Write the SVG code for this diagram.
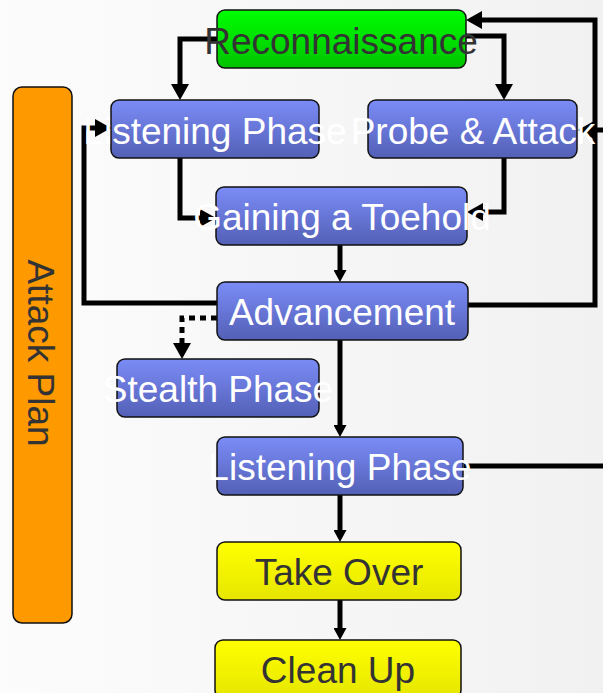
<svg xmlns="http://www.w3.org/2000/svg" width="603" height="693" viewBox="0 0 603 693">
<defs>
<linearGradient id="bg" x1="0" y1="0" x2="1" y2="0"><stop offset="0" stop-color="#fcfcfc"/><stop offset="1" stop-color="#f1f1f1"/></linearGradient>
<linearGradient id="blue" x1="0" y1="0" x2="0" y2="1"><stop offset="0" stop-color="#7b8cf7"/><stop offset="1" stop-color="#5360b6"/></linearGradient>
<linearGradient id="green" x1="0" y1="0" x2="0" y2="1"><stop offset="0" stop-color="#00ff00"/><stop offset="1" stop-color="#00c200"/></linearGradient>
<linearGradient id="yellow" x1="0" y1="0" x2="0" y2="1"><stop offset="0" stop-color="#ffff00"/><stop offset="1" stop-color="#e6e600"/></linearGradient>
<marker id="big" markerUnits="userSpaceOnUse" viewBox="0 0 16 18" refX="10" refY="9" markerWidth="16" markerHeight="18" orient="auto"><path d="M0,0 L16,9 L0,18 z" fill="#000"/></marker>
<marker id="small" markerUnits="userSpaceOnUse" viewBox="0 0 12 13" refX="6" refY="6.5" markerWidth="12" markerHeight="13" orient="auto"><path d="M0,0 L12,6.5 L0,13 z" fill="#000"/></marker>
<style>
.c{fill:none;stroke:#000;stroke-width:5;stroke-linejoin:miter}
.b{stroke:#111;stroke-width:1.5}
.t{font-family:"Liberation Sans",Arial,sans-serif;font-size:37px;text-anchor:middle}
.w{fill:#fff}
.d{fill:#333}
</style>
</defs>
<rect width="603" height="693" fill="url(#bg)"/>
<g id="connectors">
<path class="c" d="M217,39 H180 V94" marker-end="url(#big)"/>
<path class="c" d="M466,36 H504 V94" marker-end="url(#big)"/>
<path class="c" d="M180,158 V218 H210" marker-end="url(#big)"/>
<path class="c" d="M504,158 V212 H473" marker-end="url(#big)"/>
<path class="c" d="M340,245 V276" marker-end="url(#small)"/>
<path class="c" d="M217,303 H84 V128 H105" marker-end="url(#big)"/>
<path class="c" d="M468,305 H595 V20 H472" marker-end="url(#big)"/>
<path class="c" d="M603,130 H584" marker-end="url(#big)"/>
<path class="c" d="M217,318 H182 V353" stroke-dasharray="6 5" marker-end="url(#big)"/>
<path class="c" d="M340,340 V431" marker-end="url(#small)"/>
<path class="c" d="M464,466 H603"/>
<path class="c" d="M340,495 V536" marker-end="url(#small)"/>
<path class="c" d="M340,600 V634" marker-end="url(#small)"/>
</g>
<g id="attack-plan">
<rect class="b" x="13" y="87" width="59" height="536" rx="9" fill="#ff9900"/>
<text class="t d" transform="translate(28,353) rotate(90)">Attack Plan</text>
</g>
<g id="reconnaissance">
<rect class="b" x="217" y="10" width="249" height="58" rx="8" fill="url(#green)"/>
<text class="t d" x="341" y="54">Reconnaissance</text>
</g>
<g id="listening-phase-1">
<rect class="b" x="111" y="100" width="208" height="58" rx="8" fill="url(#blue)"/>
<text class="t w" x="215" y="144">Listening Phase</text>
</g>
<g id="probe-attack">
<rect class="b" x="368" y="100" width="209" height="58" rx="8" fill="url(#blue)"/>
<text class="t w" x="473" y="144">Probe &amp; Attack</text>
</g>
<g id="gaining-toehold">
<rect class="b" x="216" y="187" width="251" height="58" rx="8" fill="url(#blue)"/>
<text class="t w" x="342" y="230">Gaining a Toehold</text>
</g>
<g id="advancement">
<rect class="b" x="217" y="282" width="251" height="58" rx="8" fill="url(#blue)"/>
<text class="t w" x="342" y="325">Advancement</text>
</g>
<g id="stealth-phase">
<rect class="b" x="117" y="359" width="202" height="58" rx="8" fill="url(#blue)"/>
<text class="t w" x="218" y="402">Stealth Phase</text>
</g>
<g id="listening-phase-2">
<rect class="b" x="217" y="437" width="246" height="58" rx="8" fill="url(#blue)"/>
<text class="t w" x="340" y="480">Listening Phase</text>
</g>
<g id="take-over">
<rect class="b" x="217" y="542" width="244" height="58" rx="8" fill="url(#yellow)"/>
<text class="t d" x="339" y="585">Take Over</text>
</g>
<g id="clean-up">
<rect class="b" x="215" y="640" width="246" height="58" rx="8" fill="url(#yellow)"/>
<text class="t d" x="338" y="683">Clean Up</text>
</g>
</svg>
